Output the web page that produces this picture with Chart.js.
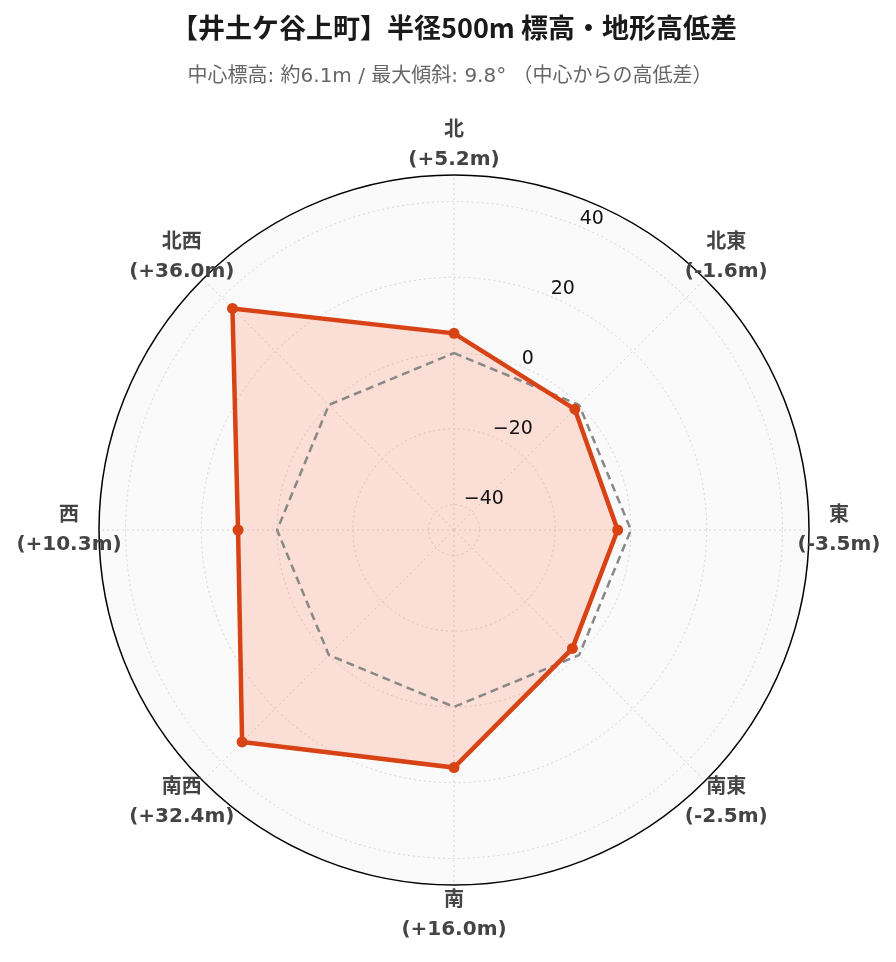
<!DOCTYPE html>
<html>
<head>
<meta charset="utf-8">
<script src="https://cdn.jsdelivr.net/npm/chart.js@4/dist/chart.umd.min.js"></script>
<style>
  html, body { margin: 0; padding: 0; background: #ffffff; }
  #wrap { width: 896px; height: 962px; position: relative; }
</style>
</head>
<body>
<div id="wrap"><canvas id="c" width="896" height="962"></canvas></div>
<script>
const titleText = '【井土ケ谷上町】半径500m 標高・地形高低差';
const subtitleText = '中心標高: 約6.1m / 最大傾斜: 9.8° （中心からの高低差）';
const directions = ['北', '北東', '東', '南東', '南', '南西', '西', '北西'];
const elevationDiff = [5.2, -1.6, -3.5, -2.5, 16.0, 32.4, 10.3, 36.0];
const referenceLine = [0, 0, 0, 0, 0, 0, 0, 0];
const tickValues = [-40, -20, 0, 20, 40];
const axisMin = -46.7;
const axisMax = 47.0;

function fmt(v) {
  return '(' + (v >= 0 ? '+' : '') + v.toFixed(1) + 'm)';
}

const LATIN = '"DejaVu Sans", "Noto Sans CJK JP", sans-serif';
const CJK = '"Noto Sans CJK JP", sans-serif';

const decorPlugin = {
  id: 'decor',
  beforeDraw(chart) {
    const s = chart.scales.r;
    const ctx = chart.ctx;
    ctx.save();
    ctx.beginPath();
    ctx.arc(s.xCenter, s.yCenter, s.drawingArea, 0, Math.PI * 2);
    ctx.fillStyle = '#fafafa';
    ctx.fill();
    ctx.restore();
  },
  beforeDatasetsDraw(chart) {
    const s = chart.scales.r;
    const ctx = chart.ctx;
    ctx.save();
    ctx.beginPath();
    ctx.arc(s.xCenter, s.yCenter, s.drawingArea, 0, Math.PI * 2);
    ctx.strokeStyle = '#000000';
    ctx.lineWidth = 1.5;
    ctx.stroke();
    ctx.restore();
  },
  afterDraw(chart) {
    const s = chart.scales.r;
    const ctx = chart.ctx;
    ctx.save();
    // title
    ctx.textAlign = 'center';
    ctx.textBaseline = 'middle';
    ctx.fillStyle = '#1a1a1a';
    ctx.font = 'bold 27px ' + CJK;
    ctx.fillText(titleText, 454, 28);
    ctx.fillStyle = '#666666';
    ctx.font = '20px ' + LATIN;
    ctx.fillText(subtitleText, 450, 77);
    // point labels
    ctx.fillStyle = '#444444';
    ctx.font = 'bold 20px ' + LATIN;
    directions.forEach((d, i) => {
      const p = s.getPointPosition(i, s.drawingArea + 30);
      ctx.fillText(d, p.x, p.y - 14.5);
      ctx.fillText(fmt(elevationDiff[i]), p.x, p.y + 14.5);
    });
    // tick labels along 22.5 degrees
    ctx.fillStyle = '#111111';
    ctx.font = '19px ' + LATIN;
    ctx.textAlign = 'left';
    ctx.textBaseline = 'alphabetic';
    tickValues.forEach(v => {
      const r = s.getDistanceFromCenterForValue(v);
      const p = s.getPointPosition(0.5, r);
      const label = v < 0 ? '\u2212' + Math.abs(v) : String(v);
      ctx.fillText(label, p.x, p.y - 3);
    });
    ctx.restore();
  }
};

new Chart(document.getElementById('c'), {
  type: 'radar',
  data: {
    labels: directions,
    datasets: [
      {
        label: '高低差',
        data: elevationDiff,
        borderColor: '#d84315',
        backgroundColor: 'rgba(255,112,67,0.2)',
        borderWidth: 4.5,
        fill: 'start',
        pointRadius: 5.5,
        pointBackgroundColor: '#d84315',
        pointBorderColor: '#d84315',
        pointBorderWidth: 0,
        tension: 0
      },
      {
        label: '基準',
        data: referenceLine,
        borderColor: '#888888',
        borderWidth: 2.5,
        borderDash: [8, 5],
        fill: false,
        pointRadius: 0,
        tension: 0
      }
    ]
  },
  options: {
    responsive: false,
    animation: false,
    layout: { padding: { left: 99, top: 175, right: 87, bottom: 77 } },
    plugins: {
      legend: { display: false },
      title: { display: false },
      tooltip: { enabled: false },
      filler: { drawTime: 'beforeDatasetsDraw' }
    },
    scales: {
      r: {
        min: axisMin,
        max: axisMax,
        afterBuildTicks: (scale) => {
          scale.ticks = tickValues.map(v => ({ value: v }));
        },
        ticks: { display: false },
        pointLabels: { display: false },
        grid: { circular: true, color: '#d6d6d6', lineWidth: 1 },
        border: { dash: [2, 3] },
        angleLines: { display: true, color: '#d6d6d6', lineWidth: 1, borderDash: [2, 3] }
      }
    }
  },
  plugins: [decorPlugin]
});
</script>
</body>
</html>
